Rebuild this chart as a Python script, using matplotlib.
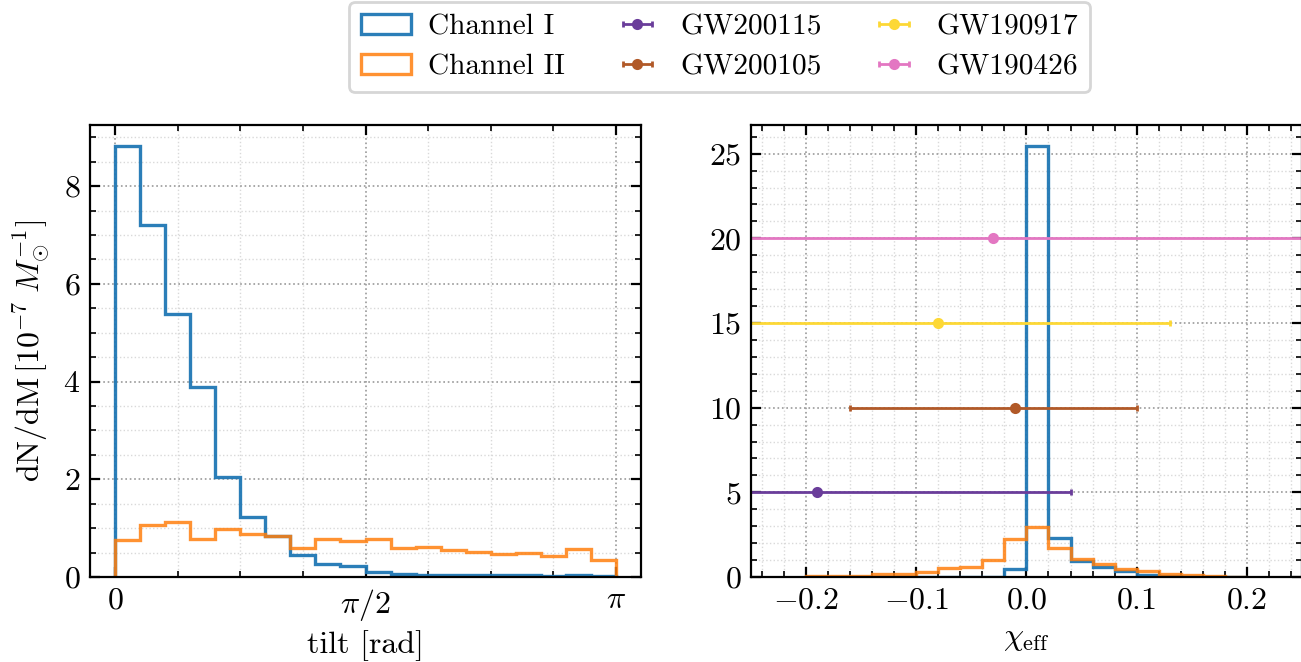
import numpy as np
import matplotlib
matplotlib.use("Agg")
import matplotlib.pyplot as plt
from matplotlib.ticker import FixedLocator, MultipleLocator

# --- data ---
# tilt histogram: 20 bins over [0, pi]
tilt_edges = np.linspace(0, np.pi, 21)
tilt_ch1 = [8.82, 7.21, 5.39, 3.89, 2.05, 1.23, 0.84, 0.46, 0.27, 0.22,
            0.11, 0.07, 0.05, 0.04, 0.04, 0.04, 0.04, 0.02, 0.04, 0.02]
tilt_ch2 = [0.75, 1.06, 1.13, 0.77, 0.99, 0.89, 0.84, 0.60, 0.77, 0.73,
            0.77, 0.59, 0.61, 0.55, 0.52, 0.48, 0.50, 0.44, 0.58, 0.34]

# chi_eff histogram: 20 bins over [-0.2, 0.2]
chi_edges = np.linspace(-0.2, 0.2, 21)
chi_ch1 = [0, 0, 0, 0, 0, 0, 0, 0, 0, 0.50,
           25.45, 2.29, 0.95, 0.59, 0.36, 0.14, 0.04, 0.02, 0.01, 0.0]
chi_ch2 = [0.06, 0.06, 0.08, 0.16, 0.20, 0.30, 0.53, 0.57, 1.00, 2.23,
           2.97, 1.70, 1.08, 0.79, 0.49, 0.36, 0.16, 0.10, 0.06, 0.02]

# GW events: chi_eff median, lower and upper errors
events = ["GW200115", "GW200105", "GW190917", "GW190426"]
ev_chi = [-0.19, -0.01, -0.08, -0.03]
ev_lo = [0.35, 0.15, 0.43, 0.30]
ev_hi = [0.23, 0.11, 0.21, 0.32]
ev_y = [5, 10, 15, 20]
ev_colors = ["#6a3d9a", "#b15928", "#fdd835", "#e377c2"]

plt.rcParams.update({
    "font.family": "serif",
    "font.serif": ["cmr10"],
    "mathtext.fontset": "cm",
    "axes.formatter.use_mathtext": True,
    "axes.unicode_minus": True,
    "font.size": 11.5,
    "axes.linewidth": 0.8,
    "xtick.direction": "in",
    "ytick.direction": "in",
    "xtick.top": True,
    "ytick.right": True,
    "xtick.minor.visible": True,
    "ytick.minor.visible": True,
    "xtick.major.size": 3.6,
    "ytick.major.size": 3.6,
    "xtick.minor.size": 2.0,
    "ytick.minor.size": 2.0,
    "xtick.major.width": 0.8,
    "ytick.major.width": 0.8,
    "xtick.minor.width": 0.6,
    "ytick.minor.width": 0.6,
})

fig = plt.figure(figsize=(6.505, 3.31), dpi=200)
ax1 = fig.add_axes([0.0692, 0.1284, 0.4235, 0.6835])
ax2 = fig.add_axes([0.5772, 0.1284, 0.4235, 0.6835])

blue, orange = "#1f77b4", "#ff7f0e"

# left: tilt
ax1.hist(tilt_edges[:-1], bins=tilt_edges, weights=tilt_ch1, histtype="step",
         color=blue, lw=1.2, alpha=0.95, label="Channel I")
ax1.hist(tilt_edges[:-1], bins=tilt_edges, weights=tilt_ch2, histtype="step",
         color=orange, lw=1.2, alpha=0.85, label="Channel II")
ax1.xaxis.set_major_locator(FixedLocator([0, np.pi / 2, np.pi]))
ax1.set_xticklabels(["$0$", r"$\pi/2$", r"$\pi$"])
ax1.xaxis.set_minor_locator(MultipleLocator(np.pi / 8))
ax1.yaxis.set_major_locator(MultipleLocator(2))
ax1.yaxis.set_minor_locator(MultipleLocator(0.5))
ax1.set_xlabel("tilt [rad]", labelpad=2.5)
ax1.set_ylabel(r"$\mathrm{dN/dM}\,[10^{-7}\;M_{\odot}^{-1}]$")

# right: chi_eff
ax2.hist(chi_edges[:-1], bins=chi_edges, weights=chi_ch1, histtype="step",
         color=blue, lw=1.2, alpha=0.95)
ax2.hist(chi_edges[:-1], bins=chi_edges, weights=chi_ch2, histtype="step",
         color=orange, lw=1.2, alpha=0.85)
for name, c, lo, hi, y, col in zip(events, ev_chi, ev_lo, ev_hi, ev_y, ev_colors):
    ax2.errorbar(c, y, xerr=[[lo], [hi]], fmt="o", color=col, ms=3,
                 elinewidth=1.0, capsize=1.0, capthick=1.0, label=name)
ax2.set_xlim(-0.25, 0.25)
ax2.xaxis.set_major_locator(MultipleLocator(0.1))
ax2.xaxis.set_minor_locator(MultipleLocator(0.02))
ax2.yaxis.set_major_locator(MultipleLocator(5))
ax2.yaxis.set_minor_locator(MultipleLocator(1))
ax2.set_xlabel(r"$\chi_{\rm eff}$", labelpad=4)

for ax in (ax1, ax2):
    ax.grid(which="major", ls=":", color="0.6", lw=0.6)
    ax.grid(which="minor", ls=":", color="0.85", lw=0.5)
    ax.set_axisbelow(True)

h1, l1 = ax1.get_legend_handles_labels()
h2, l2 = ax2.get_legend_handles_labels()
fig.legend(h1 + h2, l1 + l2, loc="center", bbox_to_anchor=(0.553, 0.929),
           ncol=3, fontsize=10.6, handlelength=1.7, columnspacing=1.6,
           handletextpad=0.6, labelspacing=0.45)

fig.savefig("out.png", dpi=200)
